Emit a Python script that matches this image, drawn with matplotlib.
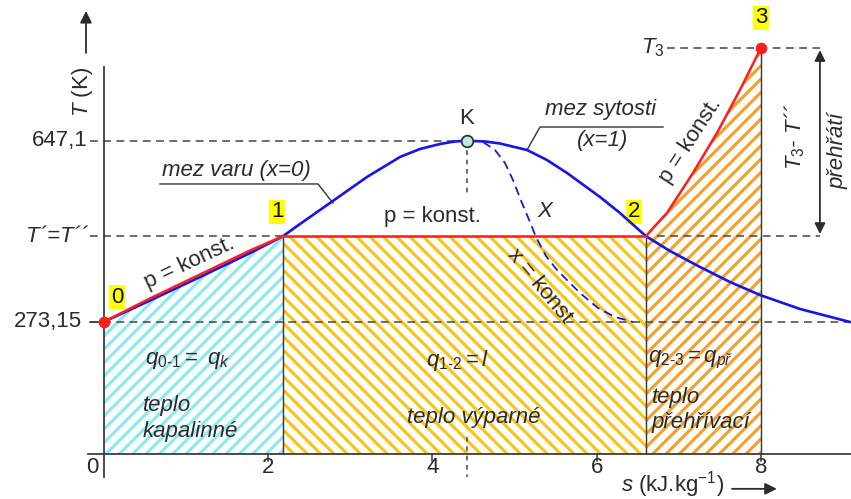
import matplotlib
matplotlib.use("Agg")
import matplotlib.pyplot as plt
import numpy as np

# ---- data (s in kJ/kg/K, T in K) -------------------------------------------
T_triple = 273.15
T_crit = 647.1
T_sat = 450.0
T_super = 839.0
s_crit = 4.42

# heating of the liquid 0 -> 1 (p = konst.)
heat_liq_s = [0.0, 0.56, 1.17, 1.78, 2.18]
heat_liq_T = [273.15, 321.3, 370.9, 420.5, 450.0]

# boiling line (x = 0)
boil_s = [0.0, 0.56, 1.17, 1.78, 2.18, 2.387, 2.752, 3.202, 3.604, 3.848, 4.091, 4.274, 4.42]
boil_T = [273.15, 317.1, 365.7, 415.3, 450.0, 475.2, 518.6, 572.3, 613.6, 630.2, 640.5, 645.7, 647.1]

# saturated vapour line (x = 1)
dew_s = [4.42, 4.639, 4.822, 5.151, 5.394, 5.638, 6.04, 6.283, 6.60, 6.892, 7.257, 7.622, 7.988, 8.475, 9.084]
dew_T = [647.1, 645.7, 641.5, 628.1, 607.4, 580.6, 531.0, 497.9, 450.0, 419.4, 386.4, 355.4, 328.5, 299.6, 272.7]

# line of constant dryness x
xconst_s = [4.615, 4.761, 4.883, 4.98, 5.09, 5.187, 5.26, 5.382, 5.516, 5.796, 6.015, 6.222, 6.441]
xconst_T = [644.6, 628.1, 601.2, 566.1, 518.6, 479.3, 448.3, 409.1, 380.2, 332.6, 301.7, 283.1, 272.7]

# superheating 2 -> 3 (p = konst.)
superheat_s = [6.60, 6.709, 6.855, 7.014, 7.172, 7.464, 7.744, 8.0]
superheat_T = [450.0, 471.1, 497.9, 539.3, 580.6, 663.2, 752.1, 839.0]

x_ticks = [2, 4, 6, 8]
x_ticklabels = ["2", "4", "6", "8"]

# ---- styling ----------------------------------------------------------------
DPI = 80
plt.rcParams["font.family"] = ["Liberation Sans", "DejaVu Sans"]
plt.rcParams["mathtext.fontset"] = "custom"
plt.rcParams["mathtext.rm"] = "Liberation Sans"
plt.rcParams["mathtext.it"] = "Liberation Sans:italic"
plt.rcParams["mathtext.bf"] = "Liberation Sans:bold"
plt.rcParams["hatch.linewidth"] = 2.8

TXT = "#2b2b2b"
AX = "#3a3a3a"
DASH = "#474747"
BLUE = "#1616e8"
RED = "#ff1e1e"
CYAN = "#8aeaf4"
GOLD = "#f8c515"
ORANGE = "#f6a02a"
FS = 20

fig = plt.figure(figsize=(851 / DPI, 499 / DPI), dpi=DPI)
ax = fig.add_axes([0, 0, 1, 1])
ax.set_xlim(-1.266, 9.096)
ax.set_ylim(-93.0, 938.0)
ax.axis("off")

s1 = heat_liq_s[-1]
s2 = superheat_s[0]
s3 = superheat_s[-1]

# ---- hatched heat areas -----------------------------------------------------
ax.fill_between(heat_liq_s, 0, heat_liq_T, facecolor="white", edgecolor=CYAN,
                hatch="//", linewidth=0, zorder=1)
ax.fill_between([s1, s2], 0, [T_sat, T_sat], facecolor="white", edgecolor=GOLD,
                hatch="\\\\", linewidth=0, zorder=1)
ax.fill_between(superheat_s, 0, superheat_T, facecolor="white", edgecolor=ORANGE,
                hatch="//", linewidth=0, zorder=1)

ax.vlines([s1, s2], 0, T_sat, color=AX, lw=1.3, zorder=2)
ax.vlines([s3], 0, T_super, color=AX, lw=1.3, zorder=2)

# ---- dashed guide lines ------------------------------------------------------
dash_kw = dict(color=DASH, lw=1.4, ls=(0, (5, 3.5)), zorder=2)
ax.plot([-0.17, s_crit], [T_crit, T_crit], **dash_kw)
ax.plot([-0.17, s1], [T_sat, T_sat], **dash_kw)
ax.plot([6.734, 8.718], [T_sat, T_sat], **dash_kw)
ax.plot([-0.17, 9.1], [T_triple, T_triple], **dash_kw)
ax.plot([6.855, 8.718], [T_super, T_super], **dash_kw)
ax.plot([s_crit, s_crit], [T_crit, 535], color=DASH, lw=1.4, ls=(0, (3, 3)), zorder=2)
ax.plot([s_crit, s_crit], [35, -47], color=DASH, lw=1.4, ls=(0, (3, 3)), zorder=2)

# ---- axes -------------------------------------------------------------------
ax.plot([-0.2, 9.1], [0, 0], color=AX, lw=1.6, zorder=3)
ax.plot([0, 0], [-48, 800], color=AX, lw=1.6, zorder=3)
for xt, lab in zip(x_ticks, x_ticklabels):
    ax.plot([xt, xt], [0, -15], color=AX, lw=1.4, zorder=3)
    ax.text(xt, -27, lab, fontsize=FS, color=TXT, ha="center", va="center")
ax.text(-0.146, -27, "0", fontsize=FS, color=TXT, ha="center", va="center")
ax.plot([-0.17, 0], [T_triple, T_triple], color=AX, lw=1.4, zorder=3)

ax.text(-0.195, T_crit, "647,1", fontsize=FS, color=TXT, ha="right", va="center")
ax.text(-0.195, T_sat, "T´=T´´", fontsize=FS, color=TXT, ha="right", va="center",
        style="italic")
ax.text(-0.27, T_triple, "273,15", fontsize=FS, color=TXT, ha="right", va="center")
ax.text(6.83, T_super, r"$T_3$", fontsize=FS, color=TXT, ha="right", va="center")

ax.text(-0.256, 748, r"$T$ (K)", fontsize=FS, color=TXT, ha="center", va="center",
        rotation=90)
ax.annotate("", xy=(-0.219, 920), xytext=(-0.219, 824),
            arrowprops=dict(arrowstyle="-|>", color=TXT, lw=1.6, mutation_scale=22))
ax.text(6.30, -64, r"$s$ (kJ.kg$^{\mathrm{-1}}$)", fontsize=FS, color=TXT,
        ha="left", va="center")
ax.annotate("", xy=(8.22, -72), xytext=(7.62, -72),
            arrowprops=dict(arrowstyle="-|>", color=TXT, lw=1.6, mutation_scale=22))

# ---- curves -----------------------------------------------------------------
ax.plot(boil_s, boil_T, color=BLUE, lw=2.4, zorder=4, solid_capstyle="round")
ax.plot(dew_s, dew_T, color=BLUE, lw=2.4, zorder=4, solid_capstyle="round")
ax.plot(xconst_s, xconst_T, color=BLUE, lw=1.6, ls=(0, (5, 3)), zorder=4)
ax.plot(heat_liq_s, heat_liq_T, color=RED, lw=2.3, zorder=5)
ax.plot([s1, s2], [T_sat, T_sat], color=RED, lw=2.3, zorder=5)
ax.plot(superheat_s, superheat_T, color=RED, lw=2.3, zorder=5)

ax.plot([heat_liq_s[0], s3], [heat_liq_T[0], superheat_T[-1]], "o", color=RED,
        ms=9.5, zorder=6)
ax.plot([s_crit], [T_crit], "o", ms=10.5, mfc="#bfe8e2", mec="#333333", mew=1.6, zorder=6)
ax.text(s_crit, 694, "K", fontsize=FS, color=TXT, ha="center", va="center")

# state point numbers
box = dict(boxstyle="square,pad=0.08", fc="#ffff00", ec="none")
for sx, ty, lab in [(0.158, 324, "0"), (2.107, 500, "1"), (6.454, 500, "2"), (8.0, 901, "3")]:
    ax.text(sx, ty, lab, fontsize=FS, color="#111111", ha="center", va="center", bbox=box)

# ---- curve labels -------------------------------------------------------------
ax.text(0.706, 585, "mez varu (x=0)", fontsize=FS, color=TXT, style="italic",
        ha="left", va="center")
ax.plot([0.682, 2.606, 2.788], [557.9, 557.9, 518.6], color=AX, lw=1.3, zorder=3)
ax.text(5.37, 711, "mez sytosti", fontsize=FS, color=TXT, style="italic",
        ha="left", va="center")
ax.text(6.076, 647, "(x=1)", fontsize=FS, color=TXT, style="italic",
        ha="center", va="center")
ax.plot([6.807, 5.309, 5.151], [675.6, 675.6, 628.1], color=AX, lw=1.3, zorder=3)

ax.text(3.994, 490, "p = konst.", fontsize=FS, color=TXT, ha="center", va="center")
ax.text(1.047, 395, "p = konst.", fontsize=FS, color=TXT, ha="center", va="center",
        rotation=25, rotation_mode="anchor")
ax.text(7.148, 647, "p = konst.", fontsize=FS, color=TXT, ha="center", va="center",
        rotation=57, rotation_mode="anchor")
ax.text(5.37, 500, "X", fontsize=FS, color=TXT, style="italic", ha="center", va="center")
ax.text(5.309, 347, "x = konst", fontsize=FS, color=TXT, ha="center", va="center",
        rotation=-50.5, rotation_mode="anchor", zorder=6)

# ---- heat labels --------------------------------------------------------------
ax.text(1.011, 194, r"$q_{\mathit{0\text{-}1}} = \ q_k$", fontsize=FS, color=TXT,
        ha="center", va="center")
ax.text(0.475, 101, "teplo", fontsize=FS, color=TXT, style="italic", ha="left", va="center")
ax.text(0.475, 46, "kapalinné", fontsize=FS, color=TXT, style="italic", ha="left", va="center")
ax.text(4.311, 194, r"$q_{\mathit{1\text{-}2}} = l$", fontsize=FS, color=TXT,
        ha="center", va="center")
ax.text(4.505, 76, "teplo výparné", fontsize=FS, color=TXT, style="italic",
        ha="center", va="center")
ax.text(6.624, 194, r"$q_{\mathit{2\text{-}3}} = q_{\mathit{př}}$", fontsize=FS, color=TXT,
        ha="left", va="center")
ax.text(6.673, 116, "teplo", fontsize=FS, color=TXT, style="italic", ha="left", va="center")
ax.text(6.673, 66, "přehřívací", fontsize=FS, color=TXT, style="italic", ha="left", va="center")

# ---- superheat span -----------------------------------------------------------
ax.annotate("", xy=(8.718, T_super), xytext=(8.718, T_sat),
            arrowprops=dict(arrowstyle="<|-|>", color=TXT, lw=1.6, mutation_scale=20))
ax.text(8.414, 655, r"$T_3$- T´´", fontsize=FS, color=TXT, style="italic",
        ha="center", va="center", rotation=90)
ax.text(8.938, 626, "přehřátí", fontsize=FS, color=TXT, style="italic",
        ha="center", va="center", rotation=90)

fig.savefig("out.png", dpi=DPI)
